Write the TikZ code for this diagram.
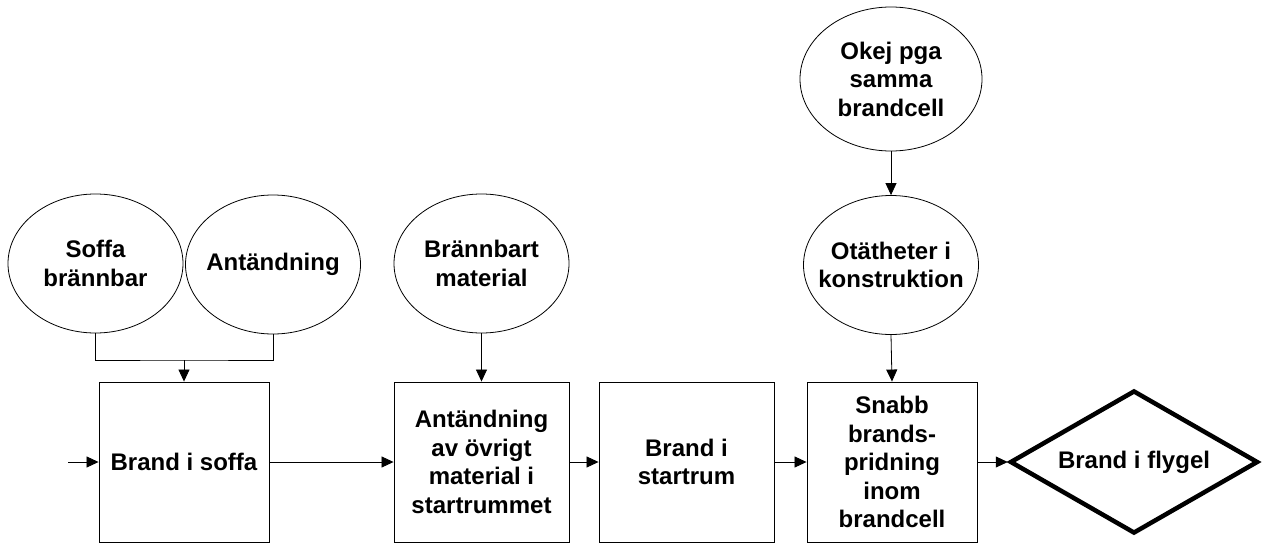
\documentclass[tikz,border=0pt]{standalone}
\usepackage{fontspec}
\setmainfont{Liberation Sans}
\usetikzlibrary{arrows.meta,shapes.geometric}
\begin{document}
\begin{tikzpicture}[x=1pt,y=-1pt,
  every node/.style={font=\fontsize{24}{28.5}\selectfont\bfseries, align=center, inner sep=0pt},
  cause/.style={draw, line width=0.8pt, ellipse, inner xsep=-35pt, inner ysep=-15pt,
                minimum width=175pt, minimum height=139pt},
  event/.style={draw, line width=0.9pt, rectangle, minimum height=160pt},
  outcome/.style={draw, line width=4.5pt, diamond, shape aspect=1.73, minimum width=248pt, minimum height=143pt},
  flow/.style={line width=0.8pt, -{Triangle[length=12pt,width=11pt]}},
  link/.style={line width=0.8pt}]
  \useasboundingbox (0,0) rectangle (1263,543);

  % causes
  \node[cause] (soffa) at (95.5,263.5) {Soffa\\brännbar};
  \node[cause] (antand) at (273,264.5) {Antändning};
  \node[cause] (brannbart) at (481.5,263.5) {Brännbart\\material};
  \node[cause, minimum width=182pt, minimum height=144pt] (okej) at (891,79) {Okej pga\\samma\\brandcell};
  \node[cause] (otat) at (891,265) {Otätheter i\\konstruktion};

  % event chain
  \node[event, minimum width=170pt] (b1) at (184,462) {Brand i soffa};
  \node[event, minimum width=175pt] (b2) at (481.5,462) {Antändning\\av övrigt\\material i\\startrummet};
  \node[event, minimum width=175pt] (b3) at (686.5,462) {Brand i\\startrum};
  \node[event, minimum width=170pt] (b4) at (892,462) {Snabb\\brands-\\pridning\\inom\\brandcell};
  \node[outcome] (flygel) at (1134,462) {Brand i flygel};

  \coordinate (start) at (68,462);
  \coordinate (join) at (184,360);

  % connectors
  \draw[link] (soffa.south) |- (join) -| (antand.south);
  \draw[flow] (join) -- (b1.north);
  \draw[flow] (start) -- (b1.west);
  \draw[flow] (b1.east) -- (b2.west);
  \draw[flow] (brannbart.south) -- (b2.north);
  \draw[flow] (b2.east) -- (b3.west);
  \draw[flow] (b3.east) -- (b4.west);
  \draw[flow] (okej.south) -- (otat.north);
  \draw[flow] (otat.south) -- (b4.north);
  \draw[flow] (b4.east) -- (flygel.west);
\end{tikzpicture}
\end{document}
